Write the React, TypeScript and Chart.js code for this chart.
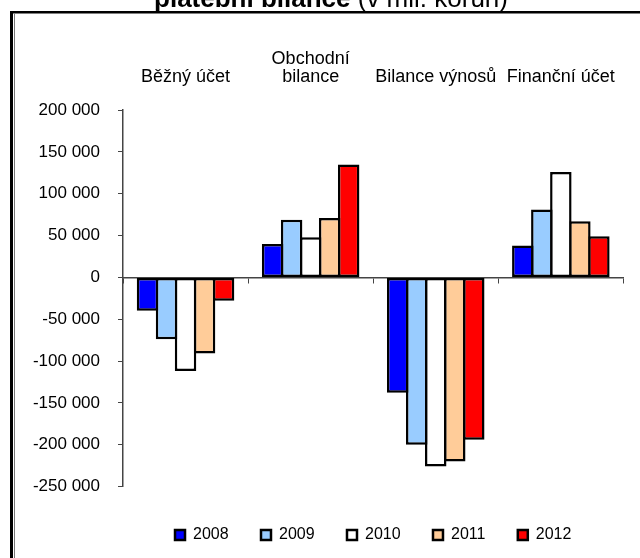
import React, { useEffect, useRef } from 'react';
import { Chart, registerables } from 'chart.js';

Chart.register(...registerables);

const categories: string[][] = [['Běžný účet'], ['Obchodní', 'bilance'], ['Bilance výnosů'], ['Finanční účet']];
const years = ['2008', '2009', '2010', '2011', '2012'];
const values2008 = [-40000, 40000, -138000, 38000];
const values2009 = [-74000, 69000, -200000, 81000];
const values2010 = [-112000, 48000, -226000, 126000];
const values2011 = [-91000, 71000, -220000, 67000];
const values2012 = [-28000, 135000, -194000, 49000];
const yMin = -250000;
const yMax = 200000;
const yStep = 50000;
const titleBold = 'platební bilance';
const titleNormal = ' (v mil. korun)';

const seriesValues = [values2008, values2009, values2010, values2011, values2012];
const seriesColors = ['#0000FF', '#99CCFF', '#FFFFFF', '#FFCC99', '#FF0000'];
const FONT = "'Liberation Sans', Arial, sans-serif";

function fmt(v: number): string {
  const s = Math.abs(v).toString().replace(/\B(?=(\d{3})+(?!\d))/g, ' ');
  return (v < 0 ? '-' : '') + s;
}

const framePlugin = {
  id: 'frameAndTitle',
  afterDraw(chart: any) {
    const ctx = chart.ctx;
    ctx.save();
    ctx.textBaseline = 'alphabetic';
    ctx.textAlign = 'left';
    ctx.fillStyle = '#000';
    ctx.font = `bold 26px ${FONT}`;
    const wb = ctx.measureText(titleBold).width;
    ctx.font = `26px ${FONT}`;
    const wn = ctx.measureText(titleNormal).width;
    const x0 = 331 - (wb + wn) / 2;
    ctx.font = `bold 26px ${FONT}`;
    ctx.fillText(titleBold, x0, 7);
    ctx.font = `26px ${FONT}`;
    ctx.fillText(titleNormal, x0 + wb, 7);
    // frame
    ctx.fillStyle = '#fff';
    ctx.fillRect(10, 13.5, 630, 2);
    ctx.fillStyle = '#000';
    ctx.fillRect(10, 11, 630, 2.5);
    ctx.fillRect(10, 11, 3, 547);
    ctx.fillStyle = '#777';
    ctx.fillRect(14, 14, 1, 544);
    ctx.restore();
  },
};

export default function App() {
  const ref = useRef<HTMLCanvasElement | null>(null);
  useEffect(() => {
    if (!ref.current) return;
    Chart.defaults.font.family = FONT;
    const chart = new Chart(ref.current, {
      type: 'bar',
      data: {
        labels: categories,
        datasets: years.map((y, i) => ({
          label: y,
          data: seriesValues[i],
          backgroundColor: seriesColors[i],
          borderColor: '#000',
          borderWidth: 2.5,
          borderSkipped: false,
          categoryPercentage: 0.76,
          barPercentage: 1.13,
        })),
      },
      options: {
        animation: false,
        responsive: true,
        maintainAspectRatio: false,
        layout: { padding: { left: 0, right: 9, top: 0, bottom: 5 } },
        plugins: {
          title: { display: false },
          tooltip: { enabled: false },
          legend: {
            display: true,
            position: 'bottom',
            fullSize: false,
            title: { display: true, text: ' ', padding: 0, font: { size: 1, lineHeight: '8px' } as any },
            labels: {
              boxWidth: 10,
              boxHeight: 10,
              padding: 32.4,
              color: '#000',
              font: { size: 16, family: FONT },
            },
          },
        },
        scales: {
          x: {
            type: 'category',
            position: { y: 0 } as any,
            offset: true,
            ticks: { display: false },
            grid: { display: true, drawOnChartArea: false, drawTicks: true, tickLength: 5, color: '#444', offset: true },
            border: { display: true, color: '#444', width: 1.5 },
            afterFit: (s: any) => { s.height = 0; },
          },
          x2: {
            type: 'category',
            position: 'top',
            labels: categories as any,
            offset: true,
            grid: { display: false, drawTicks: false },
            border: { display: false },
            ticks: { color: '#000', padding: 24, maxRotation: 0, autoSkip: false, font: { size: 18, family: FONT, lineHeight: 1.0 } },
            afterFit: (s: any) => { s.height = 110; },
          },
          y: {
            type: 'linear',
            min: yMin,
            max: yMax,
            ticks: {
              stepSize: yStep,
              color: '#000',
              padding: 18,
              font: { size: 17, family: FONT },
              callback: (v: any) => fmt(Number(v)),
            },
            grid: { display: true, drawOnChartArea: false, drawTicks: true, tickLength: 5, color: '#444' },
            border: { display: true, color: '#444', width: 1.5 },
            afterFit: (s: any) => { s.width = 123; },
          },
        },
      },
      plugins: [framePlugin],
    });
    return () => chart.destroy();
  }, []);
  return (
    <div style={{ position: 'absolute', left: 0, top: 0, width: 640, height: 558, background: '#fff' }}>
      <canvas ref={ref} />
    </div>
  );
}
